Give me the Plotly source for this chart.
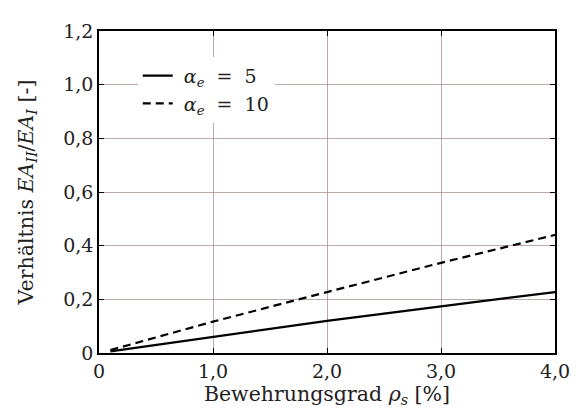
import plotly.graph_objects as go

# Data
rho_s = [0.1, 1.0, 2.0, 3.0, 4.0]
ratio_alpha5 = [0.006, 0.061, 0.120, 0.174, 0.227]
ratio_alpha10 = [0.011, 0.117, 0.227, 0.336, 0.440]

x_tickvals = [0, 1, 2, 3, 4]
x_ticktext = ["0", "1,0", "2,0", "3,0", "4,0"]
y_tickvals = [0, 0.2, 0.4, 0.6, 0.8, 1.0, 1.2]
y_ticktext = ["0", "0,2", "0,4", "0,6", "0,8", "1,0", "1,2"]

font_family = "DejaVu Serif"
nb = "\u00a0"

fig = go.Figure()
fig.add_trace(go.Scatter(
    x=rho_s, y=ratio_alpha5, mode="lines",
    name=f"{nb}<i>α</i><sub><i>e</i></sub>{nb}{nb}={nb}{nb}5",
    line=dict(color="black", width=2.2),
))
fig.add_trace(go.Scatter(
    x=rho_s, y=ratio_alpha10, mode="lines",
    name=f"{nb}<i>α</i><sub><i>e</i></sub>{nb}{nb}={nb}{nb}10",
    line=dict(color="black", width=2.2, dash="8px,5px"),
))

grid_col = "rgba(170,140,140,0.75)"
fig.update_layout(
    width=574, height=404,
    margin=dict(l=91, r=17, t=17, b=59),
    paper_bgcolor="white", plot_bgcolor="white",
    font=dict(family=font_family, size=19, color="#222"),
    showlegend=True,
    legend=dict(
        x=0.085, y=0.92, xanchor="left", yanchor="top",
        bgcolor="white", borderwidth=0,
        font=dict(family=font_family, size=19),
        itemwidth=30, tracegroupgap=0,
    ),
    xaxis=dict(
        range=[0, 4], tickvals=x_tickvals, ticktext=x_ticktext,
        tickfont=dict(family=font_family, size=19),
        showgrid=True, gridcolor=grid_col, gridwidth=1,
        zeroline=False, showline=True, linecolor="black", linewidth=1.5,
        mirror="ticks", ticks="inside", ticklen=5, tickcolor="black",
        title=dict(text="Bewehrungsgrad <i>ρ</i><sub><i>s</i></sub> [%]",
                   font=dict(family=font_family, size=20.5), standoff=4),
    ),
    yaxis=dict(
        range=[0, 1.2], tickvals=y_tickvals, ticktext=y_ticktext,
        tickfont=dict(family=font_family, size=19),
        showgrid=True, gridcolor=grid_col, gridwidth=1,
        zeroline=False, showline=True, linecolor="black", linewidth=1.5,
        mirror="ticks", ticks="inside", ticklen=5, tickcolor="black",
        title=dict(text="Verhältnis <i>EA</i><sub><i>II</i></sub>/<i>EA</i><sub><i>I</i></sub> [-]",
                   font=dict(family=font_family, size=20.5), standoff=24),
    ),
)

fig.write_html("out.html")
